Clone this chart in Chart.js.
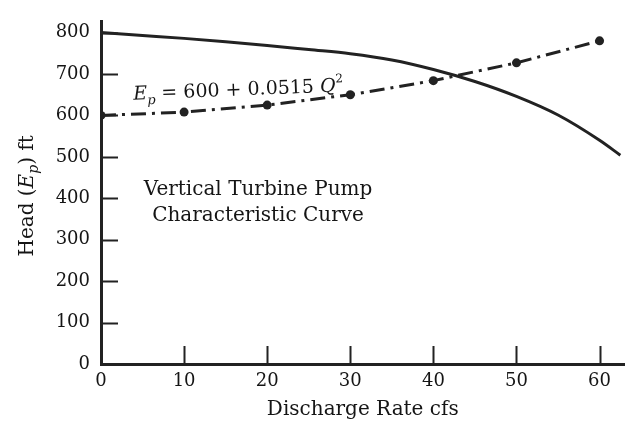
<!DOCTYPE html>
<html>
<head>
<meta charset="utf-8">
<script src="https://cdn.jsdelivr.net/npm/chart.js@4.4.1/dist/chart.umd.min.js"></script>
<style>
    html, body { margin: 0; padding: 0; background: #fff; }
    #wrap { width: 629px; height: 422px; }
</style>
</head>
<body>
<div id="wrap"><canvas id="pumpChart"></canvas></div>
<script>
// pump characteristic curve (solid)
const pumpQ = [0, 5, 10, 15, 20, 25, 30, 35, 40, 45, 50, 55, 60, 62.5];
const pumpHead = [800, 793, 786, 778, 769, 759, 749, 734, 711, 682, 646, 601, 540, 504];

// system curve points (dash-dot with dots)
const systemQ = [0, 10, 20, 30, 40, 50, 60];
const systemHead = [600, 608, 625, 650, 684, 727, 780];

const xTicks = [0, 10, 20, 30, 40, 50, 60];
const yTicks = [0, 100, 200, 300, 400, 500, 600, 700, 800];

const ink = "#222";
const textInk = "#151515";
const serif = "'DejaVu Serif', serif";

const toPoints = (xs, ys) => xs.map((x, i) => ({ x: x, y: ys[i] }));

const insideTicks = {
    id: "insideTicks",
    afterDatasetsDraw(chart) {
        const ctx = chart.ctx;
        const xs = chart.scales.x;
        const ys = chart.scales.y;
        const area = chart.chartArea;
        ctx.save();
        ctx.strokeStyle = ink;
        ctx.lineWidth = 2;
        ctx.beginPath();
        yTicks.slice(1).forEach(v => {
            const py = Math.round(ys.getPixelForValue(v)) + 0.5;
            ctx.moveTo(area.left, py);
            ctx.lineTo(area.left + 17, py);
        });
        xTicks.slice(1).forEach(v => {
            const px = Math.round(xs.getPixelForValue(v)) + 0.5;
            ctx.moveTo(px, area.bottom);
            ctx.lineTo(px, area.bottom - 18);
        });
        ctx.stroke();
        ctx.restore();
    }
};

function drawParts(ctx, parts) {
    let x = 0;
    parts.forEach(p => {
        ctx.font = p.font;
        ctx.fillText(p.text, x, p.dy || 0);
        x += ctx.measureText(p.text).width;
    });
    return x;
}

function partsWidth(ctx, parts) {
    let w = 0;
    parts.forEach(p => {
        ctx.font = p.font;
        w += ctx.measureText(p.text).width;
    });
    return w;
}

const labels = {
    id: "labels",
    afterDraw(chart) {
        const ctx = chart.ctx;
        const xs = chart.scales.x;
        const ys = chart.scales.y;
        ctx.save();
        ctx.fillStyle = textInk;
        ctx.textBaseline = "alphabetic";

        // equation along the system curve
        ctx.save();
        ctx.translate(xs.getPixelForValue(3.9), ys.getPixelForValue(638));
        ctx.rotate(-2.3 * Math.PI / 180);
        drawParts(ctx, [
            { text: "E", font: "italic 19px " + serif },
            { text: "p", font: "italic 13px " + serif, dy: 5 },
            { text: " = 600 + 0.0515 ", font: "19px " + serif },
            { text: "Q", font: "italic 19px " + serif },
            { text: "2", font: "12px " + serif, dy: -9 }
        ]);
        ctx.restore();

        // curve name
        ctx.textAlign = "center";
        ctx.font = "20px " + serif;
        const cx = xs.getPixelForValue(18.9);
        ctx.fillText("Vertical Turbine Pump", cx, ys.getPixelForValue(409));
        ctx.fillText("Characteristic Curve", cx, ys.getPixelForValue(346));
        ctx.textAlign = "left";

        // y axis title
        const titleParts = [
            { text: "Head (", font: "20px " + serif },
            { text: "E", font: "italic 20px " + serif },
            { text: "p", font: "italic 14px " + serif, dy: 5 },
            { text: ") ft", font: "20px " + serif }
        ];
        const w = partsWidth(ctx, titleParts);
        ctx.translate(33, (chart.chartArea.top + chart.chartArea.bottom) / 2 + 3);
        ctx.rotate(-Math.PI / 2);
        ctx.translate(-w / 2, 0);
        drawParts(ctx, titleParts);
        ctx.restore();
    }
};

new Chart(document.getElementById("pumpChart"), {
    type: "line",
    data: {
        datasets: [
            {
                label: "Pump curve",
                data: toPoints(pumpQ, pumpHead),
                borderColor: ink,
                borderWidth: 3,
                pointRadius: 0,
                cubicInterpolationMode: "monotone",
                fill: false
            },
            {
                label: "System curve",
                data: toPoints(systemQ, systemHead),
                borderColor: ink,
                borderWidth: 3,
                borderDash: [15, 6, 3, 6],
                pointRadius: 4.5,
                pointBackgroundColor: ink,
                pointBorderWidth: 0,
                tension: 0,
                fill: false
            }
        ]
    },
    options: {
        responsive: true,
        maintainAspectRatio: false,
        animation: false,
        layout: { padding: { top: 13, right: 0, left: 0, bottom: 0 } },
        plugins: {
            legend: { display: false },
            tooltip: { enabled: false }
        },
        scales: {
            x: {
                type: "linear",
                min: 0,
                max: 63,
                afterFit: s => { s.height = 58; },
                afterBuildTicks: s => { s.ticks = xTicks.map(v => ({ value: v })); },
                ticks: {
                    color: textInk,
                    font: { family: serif, size: 18 },
                    padding: 7,
                    maxRotation: 0
                },
                grid: { display: true, drawOnChartArea: false, drawTicks: false },
                border: { display: true, color: ink, width: 3 },
                title: {
                    display: true,
                    text: "Discharge Rate cfs",
                    color: textInk,
                    font: { family: serif, size: 20 },
                    padding: { top: 0, bottom: 0 }
                }
            },
            y: {
                min: 0,
                max: 826,
                afterFit: s => { s.width = 101; },
                afterBuildTicks: s => { s.ticks = yTicks.map(v => ({ value: v })); },
                ticks: {
                    color: textInk,
                    font: { family: serif, size: 18 },
                    padding: 11
                },
                grid: { display: true, drawOnChartArea: false, drawTicks: false },
                border: { display: true, color: ink, width: 3 }
            }
        }
    },
    plugins: [insideTicks, labels]
});
</script>
</body>
</html>
